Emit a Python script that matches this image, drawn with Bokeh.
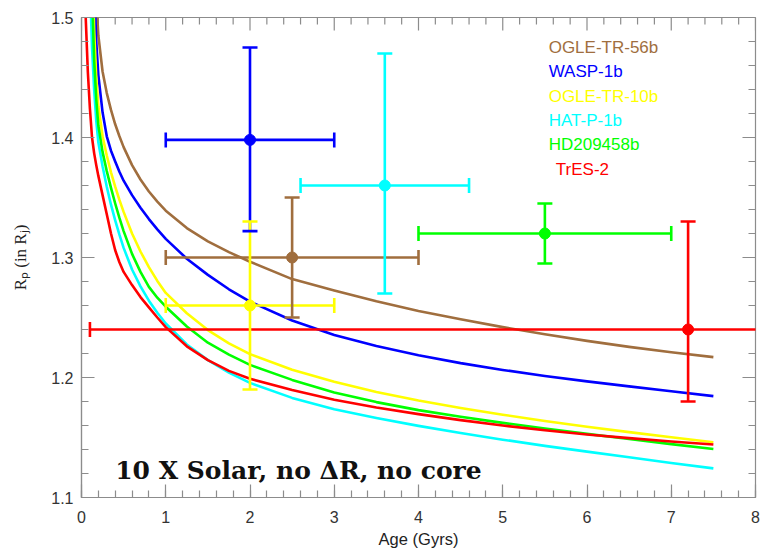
import math
from bokeh.plotting import figure
from bokeh.models import ColumnDataSource, Range1d, SingleIntervalTicker
from bokeh.core.properties import value
from bokeh.embed import file_html
from bokeh.resources import INLINE

# ---------------- data ----------------
planets = ["OGLE-TR-56b", "WASP-1b", "OGLE-TR-10b", "HAT-P-1b", "HD209458b", "TrES-2"]
colors = ["#A06E3E", "#0000FF", "#FFFF00", "#00FFFF", "#00FF00", "#FF0000"]

obs_age = [2.5, 2.0, 2.0, 3.6, 5.5, 7.2]
obs_age_lo = [1.0, 1.0, 1.0, 2.6, 4.0, 0.1]
obs_age_hi = [4.0, 3.0, 3.0, 4.6, 7.0, 14.3]
obs_r = [1.30, 1.398, 1.26, 1.36, 1.32, 1.24]
obs_r_lo = [1.25, 1.322, 1.19, 1.27, 1.295, 1.18]
obs_r_hi = [1.35, 1.475, 1.33, 1.47, 1.345, 1.33]

model_age = [0.05, 0.075, 0.1, 0.125, 0.15, 0.175, 0.2, 0.25, 0.3, 0.35, 0.4, 0.45, 0.5,
             0.6, 0.7, 0.8, 0.9, 1.0, 1.25, 1.5, 1.75, 2.0, 2.5, 3.0, 3.5, 4.0, 4.5,
             5.0, 5.5, 6.0, 6.5, 7.0, 7.5]

r_ogle56 = [2.60, 2.20, 1.90, 1.70, 1.585, 1.515, 1.485, 1.455, 1.437, 1.423, 1.411, 1.401, 1.392,
            1.377, 1.365, 1.355, 1.3465, 1.339, 1.3245, 1.3135, 1.3045, 1.2965, 1.282, 1.2725,
            1.2635, 1.2555, 1.2485, 1.242, 1.236, 1.2305, 1.2255, 1.221, 1.217]
r_wasp1 = [2.40, 2.00, 1.76, 1.61, 1.53, 1.48, 1.452, 1.421, 1.401, 1.389, 1.380, 1.3715, 1.364,
           1.352, 1.3415, 1.332, 1.3235, 1.3155, 1.299, 1.2855, 1.2735, 1.2632, 1.2475, 1.2355,
           1.2262, 1.2185, 1.212, 1.2063, 1.2013, 1.1968, 1.1926, 1.1885, 1.1845]
r_ogle10 = [2.05, 1.82, 1.66, 1.56, 1.49, 1.45, 1.426, 1.401, 1.385, 1.371, 1.359, 1.348, 1.338,
            1.320, 1.305, 1.292, 1.2805, 1.2705, 1.2535, 1.2395, 1.2285, 1.2195, 1.2065, 1.1965,
            1.188, 1.1808, 1.1746, 1.169, 1.1638, 1.159, 1.1545, 1.1502, 1.146]
r_hatp1 = [1.75, 1.62, 1.53, 1.475, 1.44, 1.414, 1.396, 1.376, 1.359, 1.344, 1.331, 1.319, 1.308,
           1.290, 1.276, 1.264, 1.254, 1.245, 1.2275, 1.2145, 1.204, 1.1955, 1.183, 1.1735,
           1.1662, 1.1597, 1.1537, 1.1482, 1.143, 1.1382, 1.1335, 1.1288, 1.1243]
r_hd209 = [1.95, 1.75, 1.61, 1.52, 1.465, 1.432, 1.410, 1.388, 1.372, 1.358, 1.345, 1.333, 1.322,
           1.303, 1.288, 1.2755, 1.2665, 1.259, 1.2425, 1.229, 1.219, 1.2105, 1.198, 1.1875,
           1.1795, 1.1728, 1.1673, 1.1622, 1.1575, 1.153, 1.1487, 1.1445, 1.1404]
r_tres2 = [1.50, 1.455, 1.424, 1.400, 1.387, 1.377, 1.368, 1.352, 1.336, 1.320, 1.306, 1.296, 1.288,
           1.277, 1.267, 1.2585, 1.250, 1.242, 1.226, 1.2145, 1.2055, 1.199, 1.1895, 1.1815,
           1.175, 1.1695, 1.1645, 1.160, 1.156, 1.1525, 1.1495, 1.1467, 1.1442]

model_curves = [r_ogle56, r_wasp1, r_ogle10, r_hatp1, r_hd209, r_tres2]

x_major = list(range(0, 9))
y_major = [1.1, 1.2, 1.3, 1.4, 1.5]

annotation = "10 X Solar, no \u0394R, no core"

# ---------------- figure ----------------
X0, X1, Y0, Y1 = 0, 8, 1.1, 1.5
p = figure(frame_width=674, frame_height=480,
           x_range=Range1d(X0, X1), y_range=Range1d(Y0, Y1),
           output_backend="svg", toolbar_location=None,
           min_border_left=81, min_border_top=17, min_border_right=10, min_border_bottom=53)
p.background_fill_color = "white"
p.border_fill_color = "white"
AX_COL = "#8c8c8c"
p.outline_line_color = AX_COL
p.outline_line_width = 1.2
p.grid.visible = False

for ax, tk in ((p.xaxis[0], SingleIntervalTicker(interval=1, num_minor_ticks=5)),
               (p.yaxis[0], SingleIntervalTicker(interval=0.1, num_minor_ticks=5))):
    ax.ticker = tk
    ax.axis_line_color = AX_COL
    ax.axis_line_width = 1.2
    ax.major_tick_line_color = AX_COL
    ax.minor_tick_line_color = AX_COL
    ax.major_tick_line_width = 1.2
    ax.minor_tick_line_width = 1.2
    ax.major_tick_in = 13
    ax.major_tick_out = 0
    ax.minor_tick_in = 7
    ax.minor_tick_out = 0
    ax.major_label_text_font = "Liberation Sans"
    ax.major_label_text_font_size = "16px"
    ax.major_label_text_color = "#333333"

p.xaxis.major_label_standoff = 13
p.yaxis.major_label_standoff = 8

p.xaxis.axis_label = "Age (Gyrs)"
p.xaxis.axis_label_text_font = "Liberation Sans"
p.xaxis.axis_label_text_font_style = "normal"
p.xaxis.axis_label_text_font_size = "16.5px"
p.xaxis.axis_label_text_color = "#222222"
p.xaxis.axis_label_standoff = 4

p.yaxis.axis_label = "R\u209a (in R\u2c7c)"
p.yaxis.axis_label_text_font = "Liberation Serif"
p.yaxis.axis_label_text_font_style = "normal"
p.yaxis.axis_label_text_font_size = "17px"
p.yaxis.axis_label_text_color = "#222222"
p.yaxis.axis_label_standoff = 18

# mirrored ticks on the top and right frame edges
x_minor = [i / 5 for i in range(0, 41) if i % 5]
y_minor = [1.1 + i * 0.02 for i in range(0, 21) if i % 5]
TK = dict(line_color=AX_COL, line_width=1.2, length_units="screen")
p.ray(x=x_major, y=[Y1] * len(x_major), length=13, angle=-math.pi / 2, **TK)
p.ray(x=x_minor, y=[Y1] * len(x_minor), length=7, angle=-math.pi / 2, **TK)
p.ray(x=[X1] * len(y_major), y=y_major, length=13, angle=math.pi, **TK)
p.ray(x=[X1] * len(y_minor), y=y_minor, length=7, angle=math.pi, **TK)

# model curves
for r_vals, col in zip(model_curves, colors):
    p.line(model_age, r_vals, line_color=col, line_width=2.6, line_join="round")

# error bars
src = ColumnDataSource(dict(age=obs_age, lo=obs_age_lo, hi=obs_age_hi,
                            r=obs_r, rlo=obs_r_lo, rhi=obs_r_hi, color=colors))
EW = 2.6
p.segment(x0="lo", y0="r", x1="hi", y1="r", line_color="color", line_width=EW, source=src)
p.segment(x0="age", y0="rlo", x1="age", y1="rhi", line_color="color", line_width=EW, source=src)
for ycol in ("rlo", "rhi"):
    p.scatter(x="age", y=ycol, marker="dash", size=15, line_color="color",
              line_width=EW, source=src)
for xcol in ("lo", "hi"):
    p.scatter(x=xcol, y="r", marker="dash", angle=math.pi / 2, size=15,
              line_color="color", line_width=EW, source=src)
p.scatter(x="age", y="r", marker="circle", size=11, fill_color="color",
          line_color="color", source=src)

# legend (coloured text only)
leg_y = [1.475 - 0.0203 * i for i in range(len(planets))]
leg_x = [5.545] * 5 + [5.63]
leg_src = ColumnDataSource(dict(x=leg_x, y=leg_y, text=planets, color=colors))
p.text(x="x", y="y", text="text", text_color="color", source=leg_src,
       text_font=value("Liberation Sans"), text_font_size="17px",
       text_baseline="middle", text_align="left")

# annotation
p.text(x=[0.40], y=[1.1225], text=[annotation], text_font=value("DejaVu Serif"),
       text_font_style="bold", text_font_size="25px", text_color="#111111",
       text_baseline="alphabetic", text_align="left")

open("out.html", "w").write(file_html(p, INLINE))
